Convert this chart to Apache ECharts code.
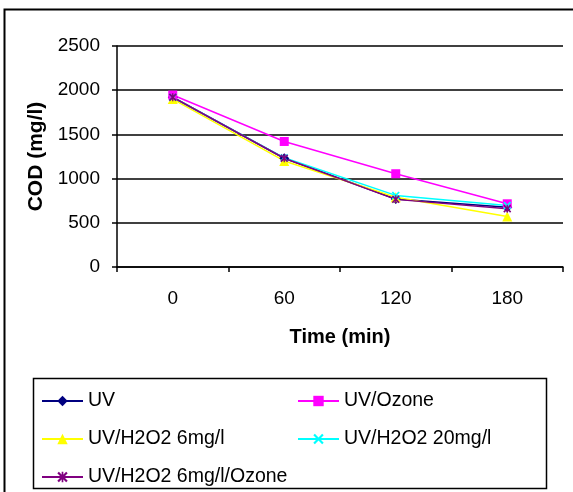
<!DOCTYPE html>
<html>
<head>
<meta charset="utf-8">
<script src="https://cdn.jsdelivr.net/npm/echarts@6/dist/echarts.min.js"></script>
<style>
  html, body { margin: 0; padding: 0; background: #fff; }
  #main { width: 573px; height: 492px; }
</style>
</head>
<body>
<div id="main"></div>
<script>
// time points (min)
var times = ["0", "60", "120", "180"];

// COD values (mg/l)
var uv = [1920, 1230, 770, 675];
var uvOzone = [1945, 1420, 1055, 715];
var uvH2o2Low = [1900, 1200, 790, 570];
var uvH2o2High = [1920, 1235, 810, 695];
var uvH2o2Ozone = [1920, 1230, 765, 660];

var yTicks = [0, 500, 1000, 1500, 2000, 2500];

var crossPath = "path://M0,1.5L1.5,0L5,3.5L8.5,0L10,1.5L6.5,5L10,8.5L8.5,10L5,6.5L1.5,10L0,8.5L3.5,5Z";
var starPath = "path://M0,1.5L1.5,0L5,3.5L8.5,0L10,1.5L6.5,5L10,8.5L8.5,10L5,6.5L1.5,10L0,8.5L3.5,5Z" +
  "M4.2,0L5.8,0L5.8,10L4.2,10Z";

var font = "Liberation Sans";

function makeSeries(name, data, color, symbol, size) {
  return {
    name: name,
    type: "line",
    data: data,
    symbol: symbol,
    symbolSize: size,
    lineStyle: { color: color, width: 1.5 },
    itemStyle: { color: color },
    emphasis: { disabled: true },
    animation: false
  };
}

var seriesList = [
  makeSeries("UV", uv, "#000080", "diamond", 10),
  makeSeries("UV/Ozone", uvOzone, "#ff00ff", "rect", 9),
  makeSeries("UV/H2O2 6mg/l", uvH2o2Low, "#ffff00", "triangle", 10),
  makeSeries("UV/H2O2 20mg/l", uvH2o2High, "#00ffff", crossPath, 8),
  makeSeries("UV/H2O2 6mg/l/Ozone", uvH2o2Ozone, "#800080", starPath, 8)
];

function makeLegend(name, left, top) {
  return {
    data: [name],
    left: left,
    top: top,
    itemWidth: 41,
    itemHeight: 13,
    itemGap: 0,
    padding: 0,
    selectedMode: false,
    textStyle: { fontFamily: font, fontSize: 19.5, color: "#000" }
  };
}

var chart = echarts.init(document.getElementById("main"));
chart.setOption({
  animation: false,
  backgroundColor: "#fff",
  textStyle: { fontFamily: font },
  grid: { left: 117, right: 10, top: 46, bottom: 225, containLabel: false },
  legend: [
    makeLegend("UV", 41, 391),
    makeLegend("UV/Ozone", 297, 391),
    makeLegend("UV/H2O2 6mg/l", 41, 429),
    makeLegend("UV/H2O2 20mg/l", 297, 429),
    makeLegend("UV/H2O2 6mg/l/Ozone", 41, 467)
  ],
  xAxis: {
    type: "category",
    data: times,
    boundaryGap: true,
    name: "Time (min)",
    nameLocation: "middle",
    nameGap: 60,
    nameTextStyle: { fontFamily: font, fontSize: 20, fontWeight: "bold", color: "#000" },
    axisLine: { lineStyle: { color: "#000", width: 1.5 } },
    axisTick: { show: true, length: 5, alignWithLabel: false, lineStyle: { color: "#000", width: 1.5 } },
    axisLabel: { margin: 22, fontFamily: font, fontSize: 19, color: "#000" },
    splitLine: { show: false }
  },
  yAxis: {
    type: "value",
    min: 0,
    max: 2500,
    interval: 500,
    name: "COD (mg/l)",
    nameLocation: "middle",
    nameGap: 68,
    nameTextStyle: { fontFamily: font, fontSize: 21, fontWeight: "bold", color: "#000" },
    axisLine: { show: true, lineStyle: { color: "#000", width: 1.5 } },
    axisTick: { show: true, inside: false, length: 5, lineStyle: { color: "#000", width: 1.5 } },
    axisLabel: {
      margin: 17,
      fontFamily: font,
      fontSize: 19,
      color: "#000",
      formatter: function (v) { return yTicks.indexOf(v) >= 0 ? String(v) : ""; }
    },
    splitLine: { show: true, lineStyle: { color: "#000", width: 1.5 } }
  },
  graphic: [
    {
      type: "rect",
      shape: { x: 4.5, y: 9.5, width: 580, height: 500 },
      style: { fill: "none", stroke: "#000", lineWidth: 2 },
      silent: true
    },
    {
      type: "rect",
      shape: { x: 33.5, y: 378.5, width: 513, height: 110 },
      style: { fill: "none", stroke: "#000", lineWidth: 1.5 },
      silent: true
    }
  ],
  series: seriesList
});
</script>
</body>
</html>
